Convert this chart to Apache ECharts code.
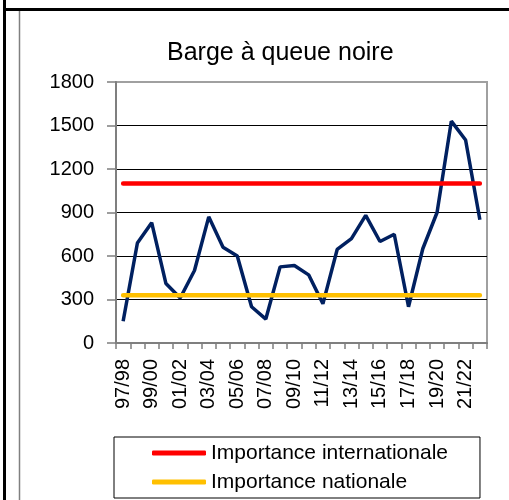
<!DOCTYPE html>
<html>
<head>
<meta charset="utf-8">
<script src="https://cdn.jsdelivr.net/npm/echarts@6/dist/echarts.min.js"></script>
<style>
  html, body { margin: 0; padding: 0; background: #fff; }
  #chart { width: 509px; height: 500px; }
</style>
</head>
<body>
<div id="chart"></div>
<script>
var SEASONS = ["97/98", "98/99", "99/00", "00/01", "01/02", "02/03", "03/04", "04/05",
               "05/06", "06/07", "07/08", "08/09", "09/10", "10/11", "11/12", "12/13",
               "13/14", "14/15", "15/16", "16/17", "17/18", "18/19", "19/20", "20/21",
               "21/22", "22/23"];
var COUNTS = [150, 690, 830, 410, 310, 500, 870, 660, 600, 250, 165, 525, 535,
              470, 270, 645, 720, 880, 700, 750, 250, 650, 900, 1530, 1400, 850];
var INTL_LEVEL = 1100;
var NATL_LEVEL = 330;
var Y_TICKS = [0, 1800, 300];

var FONT = "'Liberation Sans', Arial, sans-serif";
var AXIS_GREY = "#7f7f7f";

function flat(v) { return SEASONS.map(function() { return v; }); }

var chart = echarts.init(document.getElementById("chart"));
chart.setOption({
  animation: false,
  backgroundColor: "#fff",
  title: {
    text: "Barge à queue noire", left: 162, top: 36,
    textStyle: { fontFamily: FONT, fontSize: 25, fontWeight: "normal", color: "#000" }
  },
  graphic: [
    { type: "rect", shape: { x: 3, y: 0, width: 3, height: 500 }, style: { fill: "#000" } },
    { type: "rect", shape: { x: 3, y: 8, width: 506, height: 3 }, style: { fill: "#000" } },
    { type: "line", shape: { x1: 19.5, y1: 11, x2: 19.5, y2: 500 }, style: { stroke: "#808080", lineWidth: 1.5 } }
  ],
  legend: {
    data: [
      { name: "Importance internationale", icon: "roundRect" },
      { name: "Importance nationale", icon: "roundRect" }
    ],
    orient: "vertical", left: 114, top: 437,
    padding: [5, 32, 5, 38], itemGap: 7, itemWidth: 54, itemHeight: 5,
    borderColor: "#000", borderWidth: 1, borderRadius: 0,
    textStyle: { fontFamily: FONT, fontSize: 21, color: "#000", lineHeight: 22 }
  },
  grid: { left: 116, right: 22, top: 82, bottom: 157, show: true, borderColor: "#a0a0a0", borderWidth: 2 },
  xAxis: {
    type: "category", data: SEASONS, boundaryGap: true,
    axisLine: { lineStyle: { color: AXIS_GREY, width: 2 } },
    axisTick: { show: true, interval: 0, length: 6, lineStyle: { color: AXIS_GREY, width: 1.5 } },
    axisLabel: { interval: 1, rotate: 90, margin: 16, fontFamily: FONT, fontSize: 20, color: "#000" },
    splitLine: { show: false }
  },
  yAxis: {
    type: "value", min: Y_TICKS[0], max: Y_TICKS[1], interval: Y_TICKS[2],
    axisLine: { show: true, lineStyle: { color: AXIS_GREY, width: 2 } },
    axisTick: { show: true, length: 9, lineStyle: { color: AXIS_GREY, width: 1.5 } },
    axisLabel: { margin: 22, fontFamily: FONT, fontSize: 20, color: "#000",
                 formatter: function(v) { return String(v); } },
    splitLine: { show: true, showMinLine: false, showMaxLine: false, lineStyle: { color: "#000", width: 1 } }
  },
  series: [
    { name: "Effectifs", type: "line", data: COUNTS, symbol: "none",
      lineStyle: { color: "#002060", width: 3.5 }, itemStyle: { color: "#002060" } },
    { name: "Importance internationale", type: "line", data: flat(INTL_LEVEL), symbol: "none",
      lineStyle: { color: "#ff0000", width: 4.5, cap: "round" }, itemStyle: { color: "#ff0000" } },
    { name: "Importance nationale", type: "line", data: flat(NATL_LEVEL), symbol: "none",
      lineStyle: { color: "#ffc000", width: 4.5, cap: "round" }, itemStyle: { color: "#ffc000" } }
  ]
});
</script>
</body>
</html>
